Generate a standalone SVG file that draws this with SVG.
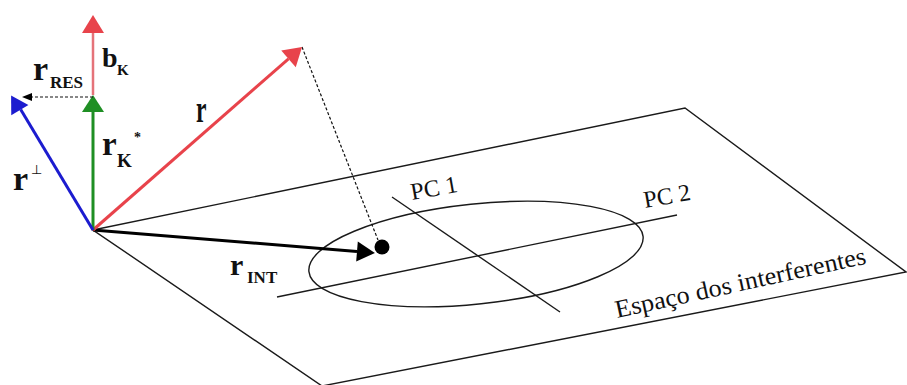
<svg xmlns="http://www.w3.org/2000/svg" width="907" height="385" viewBox="0 0 907 385">
<style>
.thin{fill:none;stroke:#1a1a1a;stroke-width:1.4}
.lab{font-family:"Liberation Serif","Times New Roman",serif;font-weight:bold;fill:#111}
.txt{font-family:"Liberation Serif","Times New Roman",serif;fill:#111}
</style>
<defs>
<marker id="hr" markerUnits="userSpaceOnUse" markerWidth="20" markerHeight="22" refX="0" refY="11" orient="auto" overflow="visible"><path d="M0,0 L18,11 L0,22 z" fill="#e8434b"/></marker>
<marker id="hp" markerUnits="userSpaceOnUse" markerWidth="20" markerHeight="22" refX="0" refY="11" orient="auto" overflow="visible"><path d="M0,0 L18,11 L0,22 z" fill="#e8434b"/></marker>
<marker id="hg" markerUnits="userSpaceOnUse" markerWidth="20" markerHeight="22" refX="0" refY="11" orient="auto" overflow="visible"><path d="M0,0 L17,11 L0,22 z" fill="#1f8f24"/></marker>
<marker id="hb" markerUnits="userSpaceOnUse" markerWidth="20" markerHeight="22" refX="0" refY="11" orient="auto" overflow="visible"><path d="M0,0 L17,10 L0,20 z" fill="#1c1ccf"/></marker>
<marker id="hk" markerUnits="userSpaceOnUse" markerWidth="20" markerHeight="22" refX="0" refY="10" orient="auto" overflow="visible"><path d="M0,0 L18,10 L0,20 z" fill="#000"/></marker>
<marker id="hs" markerUnits="userSpaceOnUse" markerWidth="12" markerHeight="10" refX="0" refY="4" orient="auto" overflow="visible"><path d="M0,0 L10,4 L0,8 z" fill="#000"/></marker>
</defs>

<g id="plane">
<polygon class="thin" points="93,230 685,108 906,272 322,386"/>
<ellipse class="thin" cx="476" cy="254" rx="168" ry="50" transform="rotate(-6 476 254)"/>
<line class="thin" x1="392" y1="197" x2="560" y2="312"/>
<line class="thin" x1="277" y1="297" x2="677" y2="215"/>
<text class="txt" font-size="24" transform="translate(412 200) rotate(-10)">PC 1</text>
<text class="txt" font-size="24" transform="translate(645 208) rotate(-10)">PC 2</text>
<text class="txt" font-size="25" transform="translate(617 318) rotate(-12.3)" textLength="256" lengthAdjust="spacingAndGlyphs">Espaço dos interferentes</text>
</g>

<g id="connectors">
<line x1="302" y1="47" x2="378" y2="240" stroke="#111" stroke-width="1.2" stroke-dasharray="3,2"/>
<circle cx="382" cy="247" r="7.5" fill="#000"/>
<line x1="93" y1="230" x2="357" y2="251.5" stroke="#000" stroke-width="3" marker-end="url(#hk)"/>
<line x1="93" y1="230" x2="288.5" y2="58.9" stroke="#e8434b" stroke-width="3" marker-end="url(#hr)"/>
<line x1="93" y1="230" x2="93" y2="112" stroke="#1f8f24" stroke-width="3" marker-end="url(#hg)"/>
<line x1="93" y1="95" x2="93" y2="33" stroke="#e57379" stroke-width="2.5" marker-end="url(#hp)"/>
<line x1="93" y1="230" x2="20.7" y2="109.6" stroke="#1c1ccf" stroke-width="3" marker-end="url(#hb)"/>
<line x1="93" y1="97" x2="32" y2="97" stroke="#111" stroke-width="1.2" stroke-dasharray="3,2" marker-end="url(#hs)"/>
</g>

<g id="labels">
<text class="lab" font-size="38" transform="translate(196 122) scale(0.62 1)">r</text>
<text class="lab" font-size="34" x="33" y="80">r</text>
<text class="lab" font-size="17" x="50" y="88">RES</text>
<text class="lab" font-size="28" x="102" y="67">b</text>
<text class="lab" font-size="15" x="117" y="75">K</text>
<text class="lab" font-size="33" x="102" y="155">r</text>
<text class="lab" font-size="19" x="117" y="167">K</text>
<text class="lab" font-size="14" x="134" y="142">*</text>
<text class="lab" font-size="34" x="13" y="190">r</text>
<text font-family="'DejaVu Sans',sans-serif" font-size="13" fill="#111" x="31" y="174">⊥</text>
<text class="lab" font-size="30" x="230" y="275">r</text>
<text class="lab" font-size="17" x="247" y="283">INT</text>
</g>
</svg>
